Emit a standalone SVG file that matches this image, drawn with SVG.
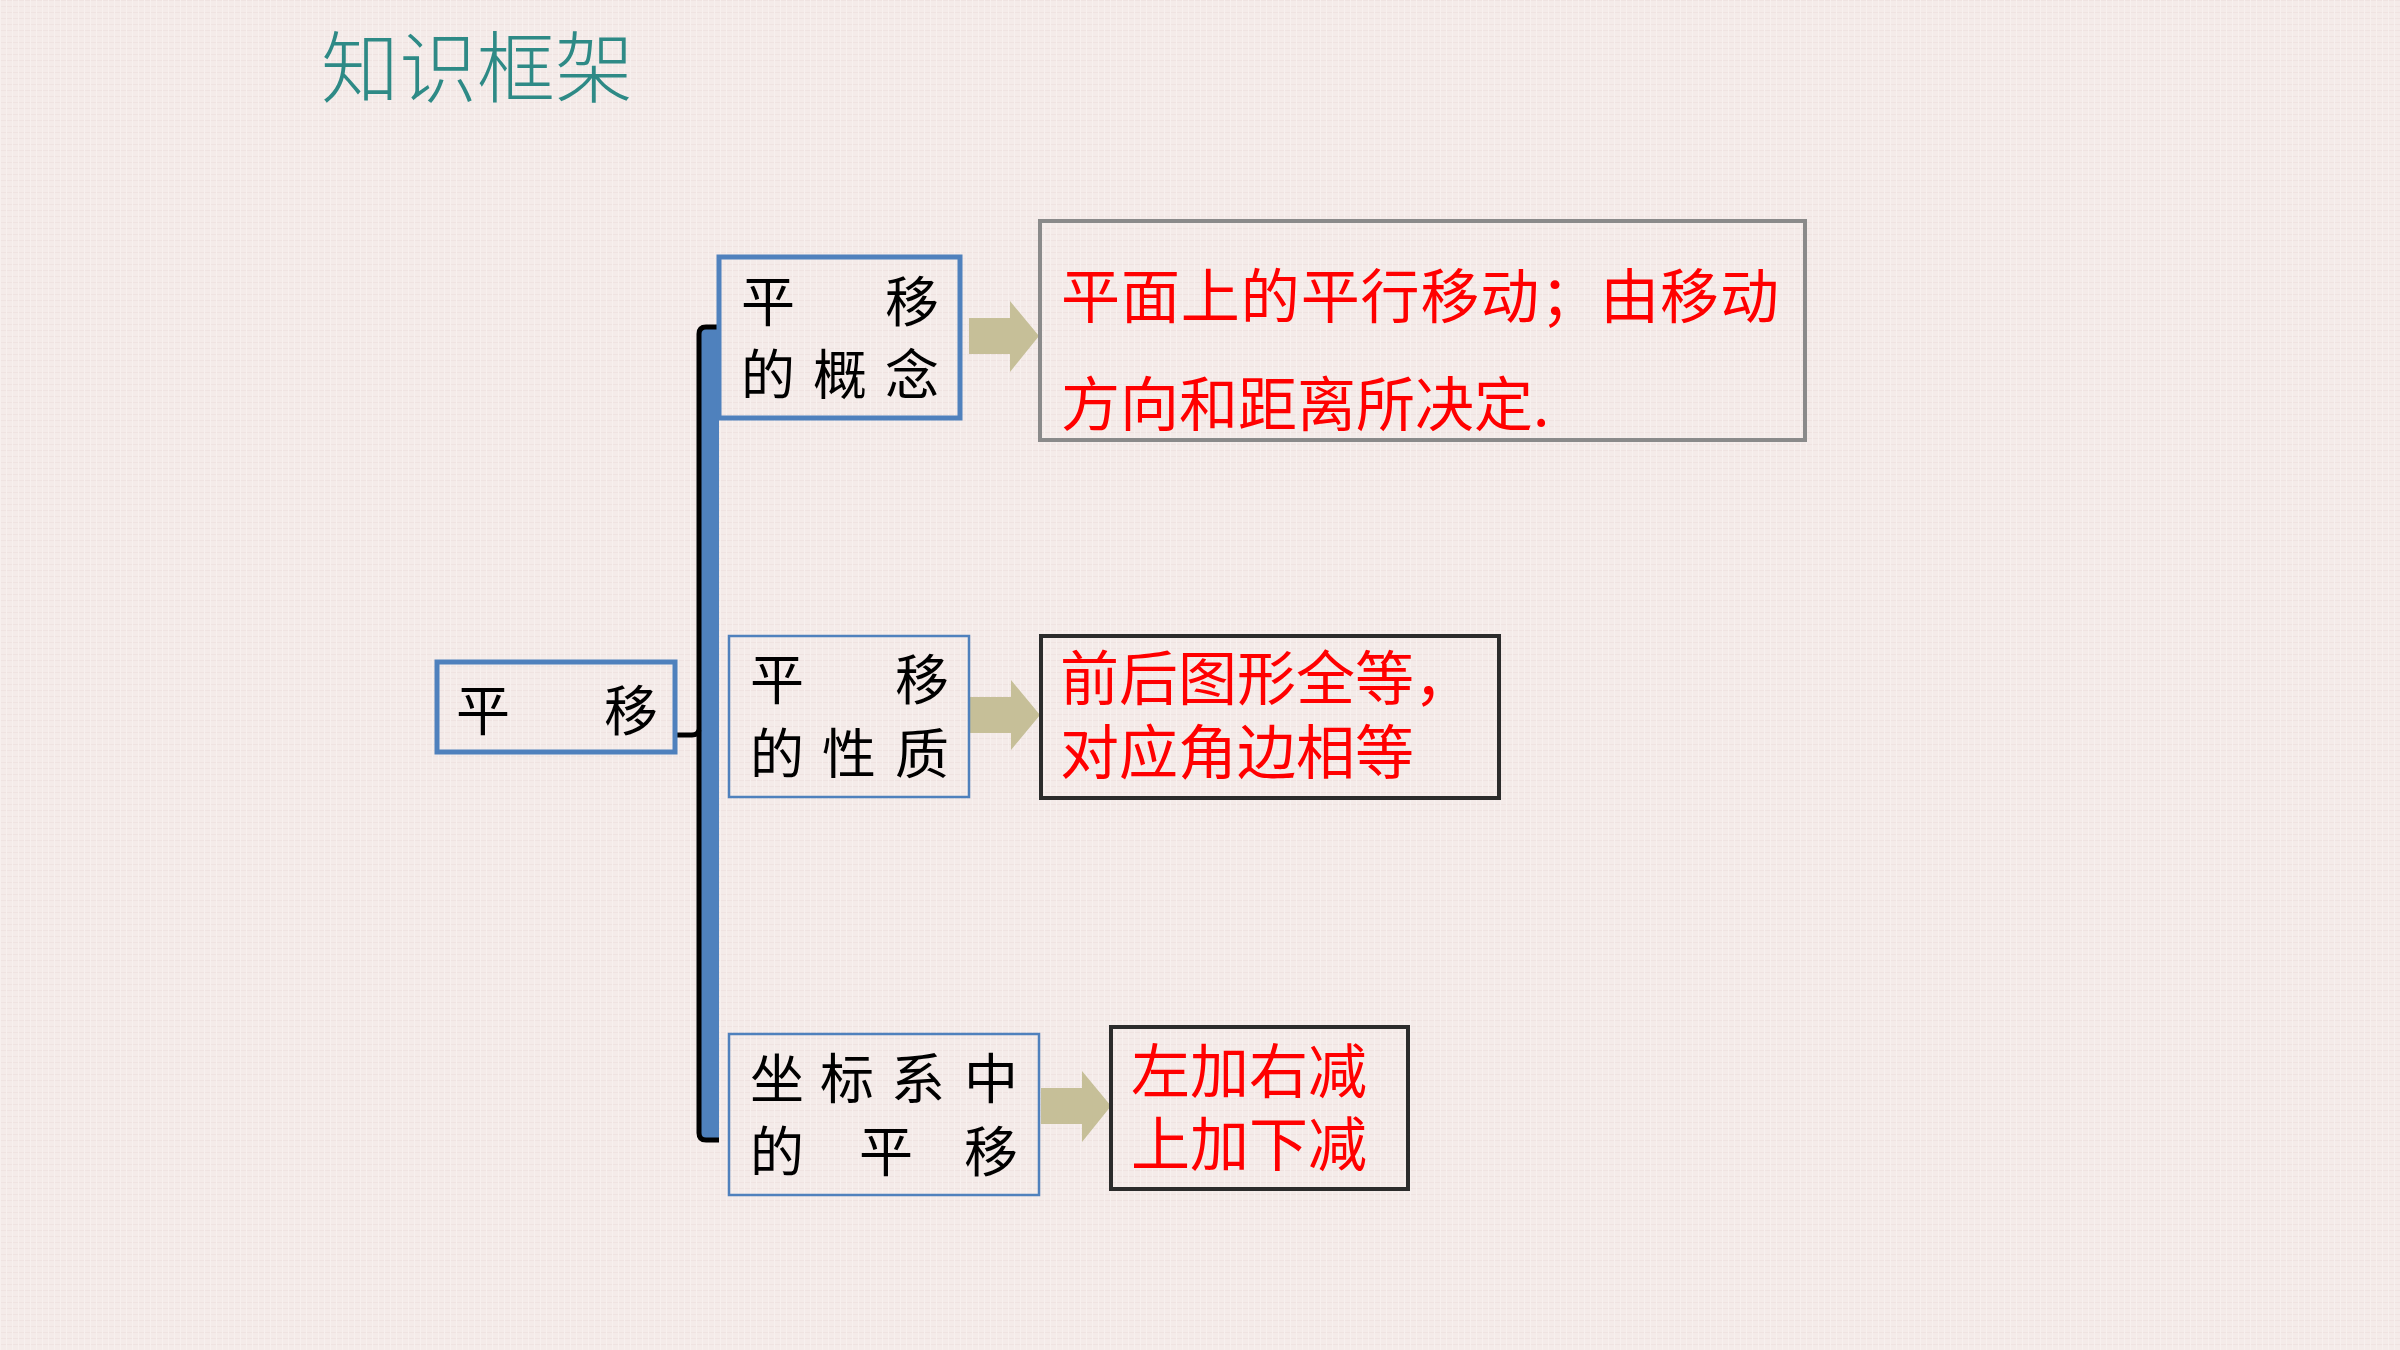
<svg xmlns="http://www.w3.org/2000/svg" width="2400" height="1350" viewBox="0 0 2400 1350">
<defs>
<style>
.cjk{font-family:"Noto Sans CJK SC","Noto Sans",sans-serif}
.blk{fill:#000;font-size:54px}
.red{fill:#ff0000;font-size:59px}
.bluebox{fill:none;stroke:#4f81bd}
.darkbox{fill:none;stroke:#2b2b2b;stroke-width:4}
.arrow{fill:#c6bf98}
</style>
<pattern id="tex" width="6" height="6" patternUnits="userSpaceOnUse">
<rect width="6" height="6" fill="#f4ebe9"/>
<rect width="6" height="1" fill="#efe3e1"/>
<rect width="1" height="6" fill="#f7f0ee"/>
</pattern>
</defs>
<rect width="2400" height="1350" fill="url(#tex)"/>
<text x="321" y="97" style="font-family:'Noto Sans CJK SC','Liberation Serif',serif;font-size:78px;fill:#2e8a86;font-weight:300">知识框架</text>

<g id="connectors">
<rect x="700" y="328" width="19" height="812" fill="#4f81bd"/>
<path d="M719 327 L706 327 Q699 327 699 334 L699 1133 Q699 1140 706 1140 L719 1140" fill="none" stroke="#000" stroke-width="5"/>
<path d="M675 735 L692 735 Q698 735 699 730" fill="none" stroke="#000" stroke-width="5"/>
<polygon class="arrow" points="969,318 1010,318 1010,301 1039,336 1010,372 1010,354 969,354"/>
<polygon class="arrow" points="970,697 1011,697 1011,680 1040,715 1011,750 1011,733 970,733"/>
<polygon class="arrow" points="1041,1088 1082,1088 1082,1071 1111,1106 1082,1142 1082,1124 1041,1124"/>
</g>

<g id="root">
<rect class="bluebox" x="437" y="662" width="238" height="90" stroke-width="5"/>
<text class="cjk blk" x="456 604" y="731">平移</text>
</g>

<g id="concept">
<rect class="bluebox" x="719" y="257" width="241" height="161" stroke-width="5"/>
<text class="cjk blk" x="741 885" y="322">平移</text>
<text class="cjk blk" x="741 813 885" y="395">的概念</text>
</g>

<g id="property">
<rect class="bluebox" x="729" y="636" width="240" height="161" stroke-width="2.5"/>
<text class="cjk blk" x="750 895" y="700">平移</text>
<text class="cjk blk" x="750 822 895" y="774">的性质</text>
</g>

<g id="coord">
<rect class="bluebox" x="729" y="1034" width="310" height="161" stroke-width="2.5"/>
<text class="cjk blk" x="750 820 891 964" y="1099">坐标系中</text>
<text class="cjk blk" x="750 859 964" y="1172">的平移</text>
</g>

<g id="def">
<rect x="1040" y="221" width="765" height="219" fill="none" stroke="#8a8a8a" stroke-width="4"/>
<text class="cjk red" x="1061" y="318" textLength="718">平面上的平行移动；由移动</text>
<text class="cjk red" x="1061" y="426">方向和距离所决定.</text>
</g>

<g id="prop">
<rect class="darkbox" x="1041" y="636" width="458" height="162"/>
<text class="cjk red" x="1060" y="700">前后图形全等，</text>
<text class="cjk red" x="1060" y="774">对应角边相等</text>
</g>

<g id="rule">
<rect class="darkbox" x="1111" y="1027" width="297" height="162"/>
<text class="cjk red" x="1131" y="1093">左加右减</text>
<text class="cjk red" x="1131" y="1166">上加下减</text>
</g>
</svg>
